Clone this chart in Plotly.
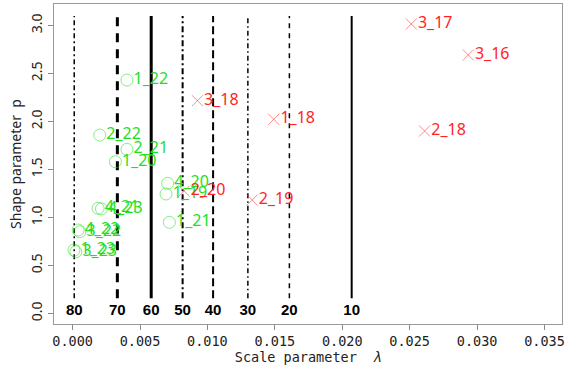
import plotly.graph_objects as go

# ---- data ----
green_labels = ["1_22", "2_22", "2_21", "1_20", "4_20", "1_19", "1_21",
                "4_21", "4_23", "4_22", "3_22", "1_23", "3_23"]
green_lambda = [0.00403, 0.00201, 0.00403, 0.00317, 0.00705, 0.00693, 0.00718,
                0.00189, 0.00214, 0.00041, 0.00054, 0.00010, 0.00024]
green_p = [2.432, 1.859, 1.710, 1.581, 1.356, 1.245, 0.950,
           1.096, 1.090, 0.870, 0.852, 0.661, 0.644]

red_labels = ["3_17", "3_16", "2_18", "1_18", "3_18", "2_19", "2_20"]
red_lambda = [0.02512, 0.02935, 0.02611, 0.01492, 0.00926, 0.01332, 0.00828]
red_p = [3.016, 2.693, 1.901, 2.023, 2.217, 1.182, 1.276]

age_labels = ["80", "70", "60", "50", "40", "30", "20", "10"]
age_lambda = [0.00012, 0.00332, 0.00583, 0.00816, 0.01042, 0.01300, 0.01608, 0.02070]
seg_p0, seg_p1, age_label_p = 0.16, 3.10, 0.02

x_ticks = [0.000, 0.005, 0.010, 0.015, 0.020, 0.025, 0.030, 0.035]
y_ticks = [0.0, 0.5, 1.0, 1.5, 2.0, 2.5, 3.0]

line_styles = [
    (1.5, "5px,3px,2px,3px"),
    (3.0, "9px,7px"),
    (3.0, "solid"),
    (2.0, "6px,3px,2px,3px"),
    (2.0, "8px,4px"),
    (1.5, "5px,3px,1.5px,3px"),
    (1.5, "5px,5px"),
    (2.0, "solid"),
]

fig = go.Figure()
for xv, (w, d) in zip(age_lambda, line_styles):
    fig.add_trace(go.Scatter(x=[xv, xv], y=[seg_p0, seg_p1], mode="lines",
                             line=dict(color="black", width=w, dash=d),
                             hoverinfo="skip", showlegend=False))

fig.add_trace(go.Scatter(x=age_lambda, y=[age_label_p] * len(age_lambda), mode="text",
                         text=["<b>%s</b>" % s for s in age_labels], textposition="middle center",
                         textfont=dict(family="Liberation Sans", size=15, color="black"),
                         showlegend=False))

# markers
fig.add_trace(go.Scatter(x=green_lambda, y=green_p, mode="markers",
                         marker=dict(symbol="circle-open", size=12,
                                     line=dict(width=1, color="rgba(40,220,40,0.55)"),
                                     color="rgba(40,220,40,0.55)"),
                         showlegend=False))
fig.add_trace(go.Scatter(x=red_lambda, y=red_p, mode="markers",
                         marker=dict(symbol="x-thin-open", size=11,
                                     color="rgba(255,60,60,0.6)",
                                     line=dict(width=1, color="rgba(255,60,60,0.6)")),
                         showlegend=False))
# labels (offset from the marker like R's text(pos=4))
fig.add_trace(go.Scatter(x=green_lambda, y=green_p, mode="markers+text",
                         text=green_labels, textposition="middle right",
                         marker=dict(size=9, color="rgba(0,0,0,0)"),
                         textfont=dict(family="Noto Sans", size=16, color="#1ee01e"),
                         showlegend=False))
fig.add_trace(go.Scatter(x=red_lambda, y=red_p, mode="markers+text",
                         text=red_labels, textposition="middle right",
                         marker=dict(size=9, color="rgba(0,0,0,0)"),
                         textfont=dict(family="Noto Sans", size=16, color="#ff2424"),
                         showlegend=False))

fig.update_layout(
    width=568, height=366,
    margin=dict(l=54, r=3, t=4, b=42),
    paper_bgcolor="white", plot_bgcolor="white",
    showlegend=False,
)
fig.update_xaxes(range=[-0.00138, 0.0363], tickvals=x_ticks,
                 ticktext=["%.3f" % v for v in x_ticks],
                 tickfont=dict(family="DejaVu Sans Mono", size=13.5, color="#222"),
                 ticks="outside", ticklen=5, tickcolor="#888",
                 showgrid=False, zeroline=False, showline=True, mirror=True,
                 linecolor="#999", linewidth=1,
                 title=dict(text="Scale parameter  <i>λ</i>", standoff=2,
                            font=dict(family="DejaVu Sans Mono", size=13.5, color="#222")))
fig.update_yaxes(range=[-0.109, 3.224], tickvals=y_ticks,
                 ticktext=["%.1f" % v for v in y_ticks], tickangle=-90,
                 tickfont=dict(family="Noto Sans", size=14, color="#222"),
                 ticks="outside", ticklen=5, tickcolor="#888",
                 showgrid=False, zeroline=False, showline=True, mirror=True,
                 linecolor="#999", linewidth=1,
                 title=dict(text="Shape parameter  p", standoff=2,
                            font=dict(family="Noto Sans", size=14, color="#222")))

fig.write_html("out.html")
